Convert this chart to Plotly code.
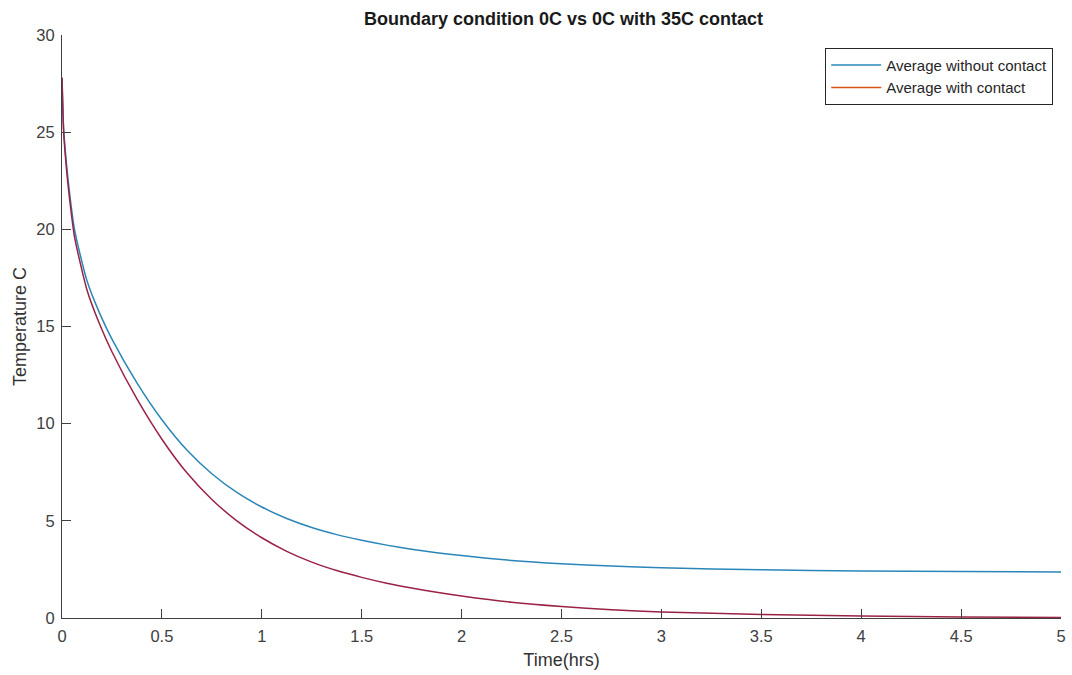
import plotly.graph_objects as go

time_hrs = [0, 0.008, 0.016, 0.031, 0.0625, 0.125, 0.1875, 0.25, 0.375, 0.5, 0.625, 0.75, 0.875,
            1, 1.125, 1.25, 1.375, 1.5, 1.625, 1.75, 1.875, 2, 2.25, 2.5, 2.75, 3, 3.5, 4, 4.5, 5]
avg_without_contact = [27.8, 25.2, 24.1, 22.5, 20.0, 17.35, 15.7, 14.35, 12.1, 10.2, 8.64, 7.42, 6.46,
                       5.71, 5.12, 4.655, 4.29, 4.0, 3.75, 3.54, 3.36, 3.21, 2.96, 2.79, 2.67, 2.58, 2.48, 2.42, 2.39, 2.37]
avg_with_contact = [27.8, 25.03, 23.88, 22.22, 19.63, 16.88, 15.14, 13.7, 11.27, 9.2, 7.47, 6.1, 5.0,
                    4.13, 3.43, 2.875, 2.44, 2.09, 1.79, 1.54, 1.32, 1.13, 0.81, 0.59, 0.43, 0.31, 0.18, 0.1, 0.05, 0.03]
x_ticks = [0, 0.5, 1, 1.5, 2, 2.5, 3, 3.5, 4, 4.5, 5]
y_ticks = [0, 5, 10, 15, 20, 25, 30]

FONT = "Arial, Liberation Sans, sans-serif"
BLUE = "#2a86b8"
DARK_RED = "#9a2244"
ORANGE = "#D95319"

fig = go.Figure()
fig.add_trace(go.Scatter(x=time_hrs, y=avg_without_contact, mode="lines",
                         name="Average without contact",
                         line=dict(color=BLUE, width=1.5, shape="spline", smoothing=0.6)))
fig.add_trace(go.Scatter(x=time_hrs, y=avg_with_contact, mode="lines",
                         name="Average with contact", showlegend=False,
                         line=dict(color=DARK_RED, width=1.5, shape="spline", smoothing=0.6)))
fig.add_trace(go.Scatter(x=[None], y=[None], mode="lines",
                         name="Average with contact",
                         line=dict(color=ORANGE, width=1.5)))

fig.update_layout(
    width=1072, height=675,
    margin=dict(l=62, r=6, t=35, b=57),
    paper_bgcolor="white", plot_bgcolor="white",
    font=dict(family=FONT, size=16, color="#404040"),
    title=dict(text="<b>Boundary condition 0C vs 0C with 35C contact</b>",
               xref="paper", x=0.502, xanchor="center", y=0.972, yanchor="middle",
               font=dict(family=FONT, size=18, color="#1a1a1a")),
    showlegend=True,
    legend=dict(x=0.764, y=0.978, xanchor="left", yanchor="top",
                bgcolor="white", bordercolor="#262626", borderwidth=1,
                font=dict(family=FONT, size=15, color="#262626"),
                tracegroupgap=0, itemwidth=50),
    xaxis=dict(range=[0, 5], tickvals=x_ticks, ticktext=[str(v) for v in x_ticks],
               showgrid=False, zeroline=False, showline=True, linecolor="#404040", linewidth=1.2,
               ticks="inside", ticklen=9, tickcolor="#404040", tickwidth=1, ticklabelstandoff=3,
               tickfont=dict(family=FONT, size=16.5, color="#404040"),
               title=dict(text="Time(hrs)", font=dict(family=FONT, size=18, color="#333333"), standoff=9)),
    yaxis=dict(range=[0, 30], tickvals=y_ticks, ticktext=[str(v) for v in y_ticks],
               showgrid=False, zeroline=False, showline=True, linecolor="#404040", linewidth=1.2,
               ticks="inside", ticklen=9, tickcolor="#404040", tickwidth=1, ticklabelstandoff=3,
               tickfont=dict(family=FONT, size=16.5, color="#404040"),
               title=dict(text="Temperature C", font=dict(family=FONT, size=18, color="#333333"), standoff=4)),
)

fig.write_html("out.html")
